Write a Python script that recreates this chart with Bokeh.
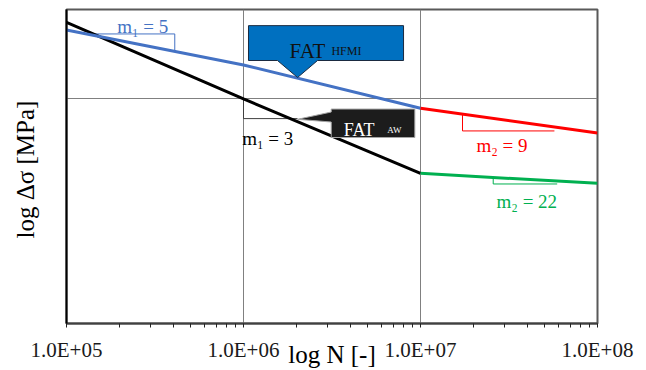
import math
from bokeh.plotting import figure
from bokeh.models import Range1d, FixedTicker, Label
from bokeh.embed import file_html
from bokeh.resources import INLINE

# ---- axis ticks ----
x_ticks = [1e5, 1e6, 1e7, 1e8]
x_tick_labels = ["1.0E+05", "1.0E+06", "1.0E+07", "1.0E+08"]
x_minor_mult = [2, 3, 4, 5, 6, 7, 8, 9]
y_ticks = [10, 100]

# ---- S-N curves (N cycles, stress range MPa) ----
N_aw_1 = [1e5, 1e6, 1e7]
S_aw_1 = [219.0, 100.0, 46.6]
N_aw_2 = [1e7, 1e8]
S_aw_2 = [46.6, 42.1]
N_hfmi_1 = [1e5, 1e6, 1e7]
S_hfmi_1 = [202.6, 141.6, 90.9]
N_hfmi_2 = [1e7, 1e8]
S_hfmi_2 = [90.9, 70.5]

# ---- labels ----
slope_labels = ["m\u2081 = 5", "m\u2081 = 3", "m\u2082 = 9", "m\u2082 = 22"]
x_title = "log N [-]"
y_title = "log \u0394\u03c3  [MPa]"

SERIF = "Liberation Serif"
BLUE = "#4472C4"
RED = "#FF0000"
GREEN = "#00B050"
CALLOUT_BLUE = "#0070C0"

p = figure(width=646, height=370, x_axis_type="log", y_axis_type="log",
           x_range=Range1d(1e5, 1e8), y_range=Range1d(10, 250),
           output_backend="svg", toolbar_location=None,
           min_border_left=66, min_border_right=49, min_border_top=9, min_border_bottom=46)
p.background_fill_color = "white"
p.border_fill_color = "white"
p.outline_line_color = "#595959"
p.outline_line_width = 2

minor = [m * d for d in x_ticks[:-1] for m in x_minor_mult]
p.xaxis.ticker = FixedTicker(ticks=x_ticks, minor_ticks=minor)
p.xaxis.major_label_overrides = {t: l for t, l in zip(x_ticks, x_tick_labels)}
p.xaxis.major_label_text_font = SERIF
p.xaxis.major_label_text_font_size = "21px"
p.xaxis.major_label_text_color = "#1a1a1a"
p.xaxis.major_label_standoff = 10
p.xaxis.major_tick_out = 4
p.xaxis.major_tick_in = 0
p.xaxis.minor_tick_out = 4
p.xaxis.minor_tick_in = 0
p.xaxis.major_tick_line_color = "#222222"
p.xaxis.minor_tick_line_color = "#222222"
p.xaxis.axis_line_color = "#404040"
p.xaxis.axis_line_width = 2
p.xaxis.axis_label = x_title
p.xaxis.axis_label_text_font = SERIF
p.xaxis.axis_label_text_font_size = "25px"
p.xaxis.axis_label_text_font_style = "normal"
p.xaxis.axis_label_text_color = "black"
p.xaxis.axis_label_standoff = -24

p.yaxis.ticker = FixedTicker(ticks=y_ticks, minor_ticks=[])
p.yaxis.major_label_overrides = {t: " " for t in y_ticks}
p.yaxis.major_label_text_font_size = "8px"
p.yaxis.major_label_standoff = 0
p.yaxis.major_tick_out = 0
p.yaxis.major_tick_in = 0
p.yaxis.minor_tick_out = 0
p.yaxis.minor_tick_in = 0
p.yaxis.axis_line_color = "black"
p.yaxis.axis_line_width = 2
p.yaxis.axis_label = y_title
p.yaxis.axis_label_text_font = SERIF
p.yaxis.axis_label_text_font_size = "25px"
p.yaxis.axis_label_text_font_style = "normal"
p.yaxis.axis_label_text_color = "black"
p.yaxis.axis_label_standoff = 22

p.xgrid.grid_line_color = "#808080"
p.ygrid.grid_line_color = "#808080"
p.xgrid.grid_line_width = 1
p.ygrid.grid_line_width = 1

# ---- slope triangles ----
p.line([1.295e5, 4.09e5, 4.09e5], [194.6, 194.6, 162.7], line_color=BLUE, line_width=1)
p.line([1e6, 1e6, 2.02e6], [100.0, 81.7, 81.7], line_color="#404040", line_width=1)
p.line([1.727e7, 1.727e7, 5.71e7], [85.6, 72.0, 72.0], line_color=RED, line_width=1)
p.line([2.575e7, 2.575e7, 5.92e7], [44.7, 41.8, 41.8], line_color=GREEN, line_width=1)

# ---- curves ----
p.line(N_aw_1, S_aw_1, line_color="black", line_width=3)
p.line(N_aw_2, S_aw_2, line_color=GREEN, line_width=3)
p.line(N_hfmi_1, S_hfmi_1, line_color=BLUE, line_width=3)
p.line(N_hfmi_2, S_hfmi_2, line_color=RED, line_width=3)

# ---- callouts ----
p.patch([1.067e6, 8.02e6, 8.02e6, 2.62e6, 2.02e6, 1.556e6, 1.067e6],
        [211.9, 211.9, 148.2, 148.2, 124.5, 148.2, 148.2],
        fill_color=CALLOUT_BLUE, line_color="#1a2a40", line_width=1)
p.patch([3.13e6, 9.29e6, 9.29e6, 3.13e6, 3.13e6, 2.02e6, 3.13e6],
        [90.1, 90.1, 67.3, 67.3, 78.9, 81.1, 87.4],
        fill_color="#1c1c1c", line_color="#a6a6a6", line_width=1)

def lab(x, y, text, color, size, **kw):
    p.add_layout(Label(x=x, y=y, text=text, text_color=color, text_font=SERIF,
                       text_font_size=size, text_baseline=kw.pop("baseline", "alphabetic"),
                       text_align=kw.pop("align", "left"), **kw))

lab(1.934e5, 209.6, slope_labels[0], BLUE, "19px")
lab(9.83e5, 66.8, slope_labels[1], "black", "19px")
lab(2.07e7, 62.2, slope_labels[2], RED, "19px")
lab(2.687e7, 35.1, slope_labels[3], GREEN, "19px")

lab(1.82e6, 164.0, "FAT", "#111111", "21px")
lab(3.14e6, 164.0, "HFMI", "#111111", "12px")
lab(3.69e6, 73.0, "FAT", "white", "18px")
lab(6.49e6, 73.0, "AW", "white", "9px")

open("out.html", "w").write(file_html(p, INLINE))
